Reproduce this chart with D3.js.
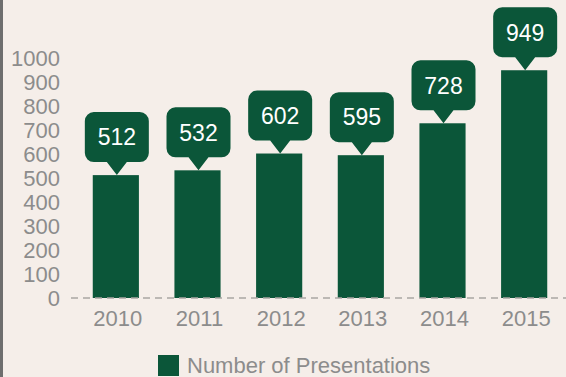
<!DOCTYPE html>
<html>
<head>
<meta charset="utf-8">
<script src="https://cdn.jsdelivr.net/npm/d3@7"></script>
<style>
  html, body { margin: 0; padding: 0; background: #f5eee9; }
  svg { display: block; }
  text { font-family: "Liberation Sans", Arial, sans-serif; }
</style>
</head>
<body>
<svg id="chart" width="566" height="377"></svg>
<script>
// Presentations per year
const years = ["2010", "2011", "2012", "2013", "2014", "2015"];
const presentations = [512, 532, 602, 595, 728, 949];
const yTicks = [0, 100, 200, 300, 400, 500, 600, 700, 800, 900, 1000];
const seriesName = "Number of Presentations";

const W = 566, H = 377;
const green = "#0b5639";
const grey = "#8c8c8c";

const svg = d3.select("#chart");

svg.append("rect").attr("width", W).attr("height", H).attr("fill", "#f5eee9");
// left edge strip
svg.append("rect").attr("x", 0).attr("y", 0).attr("width", 3).attr("height", H).attr("fill", "#6e6e6e");

const x = d3.scaleBand().domain(years).range([75, 565]).paddingInner(0.435).paddingOuter(0.2175);
const y = d3.scaleLinear().domain([0, 1000]).range([298, 58]);

// y axis labels
const yAxis = svg.append("g")
  .attr("transform", "translate(60,0)")
  .call(d3.axisLeft(y).tickValues(yTicks).tickSize(0).tickPadding(0).tickFormat(d3.format("d")));
yAxis.select(".domain").remove();
yAxis.selectAll("text")
  .attr("fill", grey)
  .style("font-size", "22px")
  .style("font-family", "'Liberation Sans', Arial, sans-serif")
  .attr("dy", "0.36em");

// bars
svg.append("g").selectAll("rect")
  .data(years)
  .join("rect")
  .attr("x", d => x(d))
  .attr("width", x.bandwidth())
  .attr("y", (d, i) => y(presentations[i]))
  .attr("height", (d, i) => y(0) - y(presentations[i]))
  .attr("fill", green);

// dashed baseline
svg.append("line")
  .attr("x1", 71).attr("x2", W)
  .attr("y1", y(0)).attr("y2", y(0))
  .attr("stroke", "#a9a6a3")
  .attr("stroke-width", 1.5)
  .attr("stroke-dasharray", "7,5");

// x axis labels
const xAxis = svg.append("g")
  .attr("transform", `translate(2,${y(0)})`)
  .call(d3.axisBottom(x).tickSize(0).tickPadding(12));
xAxis.select(".domain").remove();
xAxis.selectAll("text")
  .attr("fill", grey)
  .style("font-size", "22px")
  .style("font-family", "'Liberation Sans', Arial, sans-serif");

// value callouts: rounded box with a pointer down to the bar top
const boxW = 64, boxH = 50, r = 9, gap = 13, halfPtr = 10;
function calloutPath(cx, tipY) {
  const p = d3.path();
  const b = tipY - gap, t = b - boxH, l = cx - boxW / 2, rt = cx + boxW / 2;
  p.moveTo(l + r, t);
  p.lineTo(rt - r, t);
  p.arcTo(rt, t, rt, t + r, r);
  p.lineTo(rt, b - r);
  p.arcTo(rt, b, rt - r, b, r);
  p.lineTo(cx + halfPtr, b);
  p.lineTo(cx, tipY);
  p.lineTo(cx - halfPtr, b);
  p.lineTo(l + r, b);
  p.arcTo(l, b, l, b - r, r);
  p.lineTo(l, t + r);
  p.arcTo(l, t, l + r, t, r);
  p.closePath();
  return p.toString();
}

const callouts = svg.append("g").selectAll("g")
  .data(years)
  .join("g");

callouts.append("path")
  .attr("d", (d, i) => calloutPath(x(d) + x.bandwidth() / 2 + 1, y(presentations[i])))
  .attr("fill", green);

callouts.append("text")
  .attr("x", d => x(d) + x.bandwidth() / 2 + 1)
  .attr("y", (d, i) => y(presentations[i]) - gap - boxH / 2)
  .attr("dy", "0.36em")
  .attr("text-anchor", "middle")
  .attr("fill", "#ffffff")
  .style("font-size", "23px")
  .text((d, i) => presentations[i]);

// legend
const legend = svg.append("g");
legend.append("rect")
  .attr("x", 158).attr("y", 355).attr("width", 21).attr("height", 21)
  .attr("fill", green);
legend.append("text")
  .attr("x", 187).attr("y", 373)
  .attr("fill", grey)
  .style("font-size", "22px")
  .text(seriesName);
</script>
</body>
</html>
